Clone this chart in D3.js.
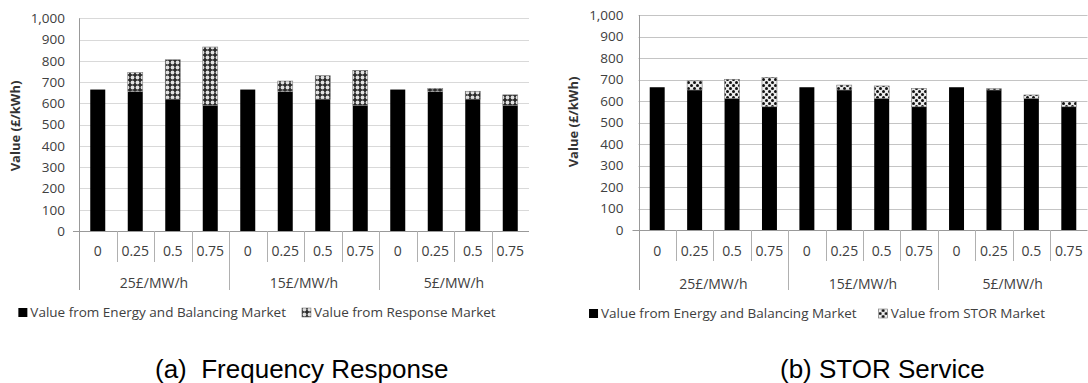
<!DOCTYPE html>
<html><head><meta charset="utf-8">
<script src="https://cdn.jsdelivr.net/npm/d3@7"></script>
<style>
html,body{margin:0;padding:0;background:#fff;}
svg{display:block;font-family:"Open Sans",sans-serif;}
</style></head><body>
<script>
// Category levels (outer: availability price, inner: share level)
const priceGroups = ["25£/MW/h", "15£/MW/h", "5£/MW/h"];
const shareLevels = ["0", "0.25", "0.5", "0.75"];
const yTickValues = [0, 100, 200, 300, 400, 500, 600, 700, 800, 900, 1000];

// (a) Frequency Response, £/kWh
const energyValueFR = [665, 655, 620, 590, 665, 655, 620, 590, 665, 655, 620, 590];
const responseValue = [0, 90, 185, 275, 0, 50, 110, 165, 0, 15, 37, 50];

// (b) STOR Service, £/kWh
const energyValueSTOR = [664, 651, 612, 573, 664, 651, 612, 573, 664, 651, 612, 573];
const storValue = [0, 43, 89, 137, 0, 23, 58, 86, 0, 6, 16, 24];

const legendLabelsFR = ["Value from Energy and Balancing Market", "Value from Response Market"];
const legendLabelsSTOR = ["Value from Energy and Balancing Market", "Value from STOR Market"];
const yAxisTitle = "Value (£/kWh)";

const svg = d3.select("body").append("svg").attr("width", 1088).attr("height", 383);
const defs = svg.append("defs");

// dark checker with light dots
const pA = defs.append("pattern").attr("id", "patResponse").attr("patternUnits", "userSpaceOnUse")
  .attr("width", 5).attr("height", 5);
pA.append("rect").attr("width", 5).attr("height", 5).attr("fill", "#2a2a2a");
pA.append("circle").attr("cx", 2.5).attr("cy", 2.5).attr("r", 1.9).attr("fill", "#e0e0e0");

// light ground with dark dots
const pB = defs.append("pattern").attr("id", "patStor").attr("patternUnits", "userSpaceOnUse")
  .attr("width", 6).attr("height", 6);
pB.append("rect").attr("width", 6).attr("height", 6).attr("fill", "#ececec");
pB.append("circle").attr("cx", 1.5).attr("cy", 1.5).attr("r", 1.5).attr("fill", "#111");
pB.append("circle").attr("cx", 4.5).attr("cy", 4.5).attr("r", 1.5).attr("fill", "#111");

const cats = priceGroups.flatMap(p => shareLevels.map(s => p + "|" + s));
const crisp = v => Math.round(v) + 0.5;

function panel(o) {
  const g = svg.append("g");
  const x = d3.scaleBand().domain(cats).range([o.left, o.right]).paddingInner(0.6).paddingOuter(0.3);
  const y = d3.scaleLinear().domain([0, 1000]).range([o.base, o.top]);
  const half = (x.step() - x.bandwidth()) / 2;
  const boundary = i => i < cats.length ? x(cats[i]) - half : x(cats[cats.length - 1]) + x.bandwidth() + half;

  // horizontal gridlines
  g.append("g").selectAll("line").data(yTickValues.filter(v => v > 0)).join("line")
    .attr("x1", o.left).attr("x2", o.right)
    .attr("y1", d => crisp(y(d))).attr("y2", d => crisp(y(d)))
    .attr("stroke", o.grid).attr("stroke-width", 1);

  // value axis labels
  const ya = g.append("g").attr("transform", `translate(${o.left},0)`)
    .call(d3.axisLeft(y).tickValues(yTickValues).tickFormat(d3.format(",")).tickSize(0).tickPadding(o.tickPad));
  ya.select(".domain").remove();
  ya.selectAll("text").attr("font-size", 13.5).attr("fill", "#404040")
    .attr("font-family", "Open Sans, sans-serif");

  // value axis title
  g.append("text")
    .attr("transform", `translate(${o.titleX},${o.titleY}) rotate(-90)`)
    .attr("text-anchor", "middle").attr("dominant-baseline", "middle")
    .attr("font-size", 13).attr("font-weight", "bold").attr("fill", "#333")
    .text(yAxisTitle);

  // stacked bars
  g.append("g").selectAll("rect").data(cats).join("rect")
    .attr("x", d => x(d)).attr("width", x.bandwidth())
    .attr("y", (d, i) => y(o.base1[i])).attr("height", (d, i) => y(0) - y(o.base1[i]))
    .attr("fill", "#000");
  g.append("g").selectAll("rect").data(cats.filter((d, i) => o.extra[i] > 0)).join("rect")
    .attr("x", d => x(d)).attr("width", x.bandwidth())
    .attr("y", d => { const i = cats.indexOf(d); return y(o.base1[i] + o.extra[i]); })
    .attr("height", d => { const i = cats.indexOf(d); return y(o.base1[i]) - y(o.base1[i] + o.extra[i]); })
    .attr("fill", `url(#${o.pattern})`).attr("stroke", "#777").attr("stroke-width", 0.6);

  // category axis line and value axis line
  g.append("line").attr("x1", o.left - 6).attr("x2", o.right)
    .attr("y1", crisp(y(0))).attr("y2", crisp(y(0))).attr("stroke", "#999");
  g.append("line").attr("x1", crisp(o.left)).attr("x2", crisp(o.left))
    .attr("y1", y(1000)).attr("y2", o.groupSepBottom).attr("stroke", "#999");

  // category separators
  const seps = d3.range(1, cats.length);
  g.append("g").selectAll("line").data(seps).join("line")
    .attr("x1", i => crisp(boundary(i))).attr("x2", i => crisp(boundary(i)))
    .attr("y1", y(0)).attr("y2", i => i % shareLevels.length === 0 ? o.groupSepBottom : o.innerSepBottom)
    .attr("stroke", "#b0b0b0");

  // inner category labels
  g.append("g").selectAll("text").data(cats).join("text")
    .attr("x", d => x(d) + x.bandwidth() / 2).attr("y", o.innerLabelY)
    .attr("text-anchor", "middle").attr("font-size", 14).attr("fill", "#404040")
    .text(d => d.split("|")[1]);

  // outer category labels
  g.append("g").selectAll("text").data(priceGroups).join("text")
    .attr("x", (d, gi) => (boundary(gi * 4) + boundary(gi * 4 + 4)) / 2).attr("y", o.groupLabelY)
    .attr("text-anchor", "middle").attr("font-size", 14).attr("fill", "#404040")
    .text(d => d);

  // legend
  const lg = g.append("g");
  let cx = 0;
  const fills = ["#000", `url(#${o.pattern})`];
  o.legend.forEach((lab, i) => {
    const it = lg.append("g").attr("transform", `translate(${cx},0)`);
    it.append("rect").attr("x", 0).attr("y", -9).attr("width", 9).attr("height", 9)
      .attr("fill", fills[i]).attr("stroke", i ? "#777" : "none").attr("stroke-width", 0.6);
    const t = it.append("text").attr("x", 12).attr("y", 0).attr("font-size", 13.5).attr("fill", "#404040").text(lab);
    cx += 12 + t.node().getComputedTextLength() + o.legendGap;
  });
  const lw = cx - o.legendGap;
  lg.attr("transform", `translate(${o.legendCenter - lw / 2},${o.legendY})`);

  // caption
  svg.append("text").attr("x", o.captionX).attr("y", 378)
    .attr("font-family", "Liberation Sans, Arial, sans-serif").attr("font-size", 26)
    .attr("fill", "#000").style("white-space", "pre").text(o.caption);
}

panel({
  left: 79, right: 529, base: 231, top: 18.3, grid: "#d9d9d9", tickPad: 14,
  titleX: 17, titleY: 126,
  base1: energyValueFR, extra: responseValue, pattern: "patResponse",
  innerSepBottom: 262, groupSepBottom: 290, innerLabelY: 256, groupLabelY: 288,
  legend: legendLabelsFR, legendCenter: 257, legendY: 317, legendGap: 16,
  captionX: 155, caption: "(a)  Frequency Response"
});

panel({
  left: 638.5, right: 1087.5, base: 230, top: 15, grid: "#c4c4c4", tickPad: 15,
  titleX: 575, titleY: 122,
  base1: energyValueSTOR, extra: storValue, pattern: "patStor",
  innerSepBottom: 261, groupSepBottom: 290, innerLabelY: 256, groupLabelY: 289,
  legend: legendLabelsSTOR, legendCenter: 817, legendY: 318, legendGap: 22,
  captionX: 780, caption: "(b) STOR Service"
});
</script>
</body></html>
